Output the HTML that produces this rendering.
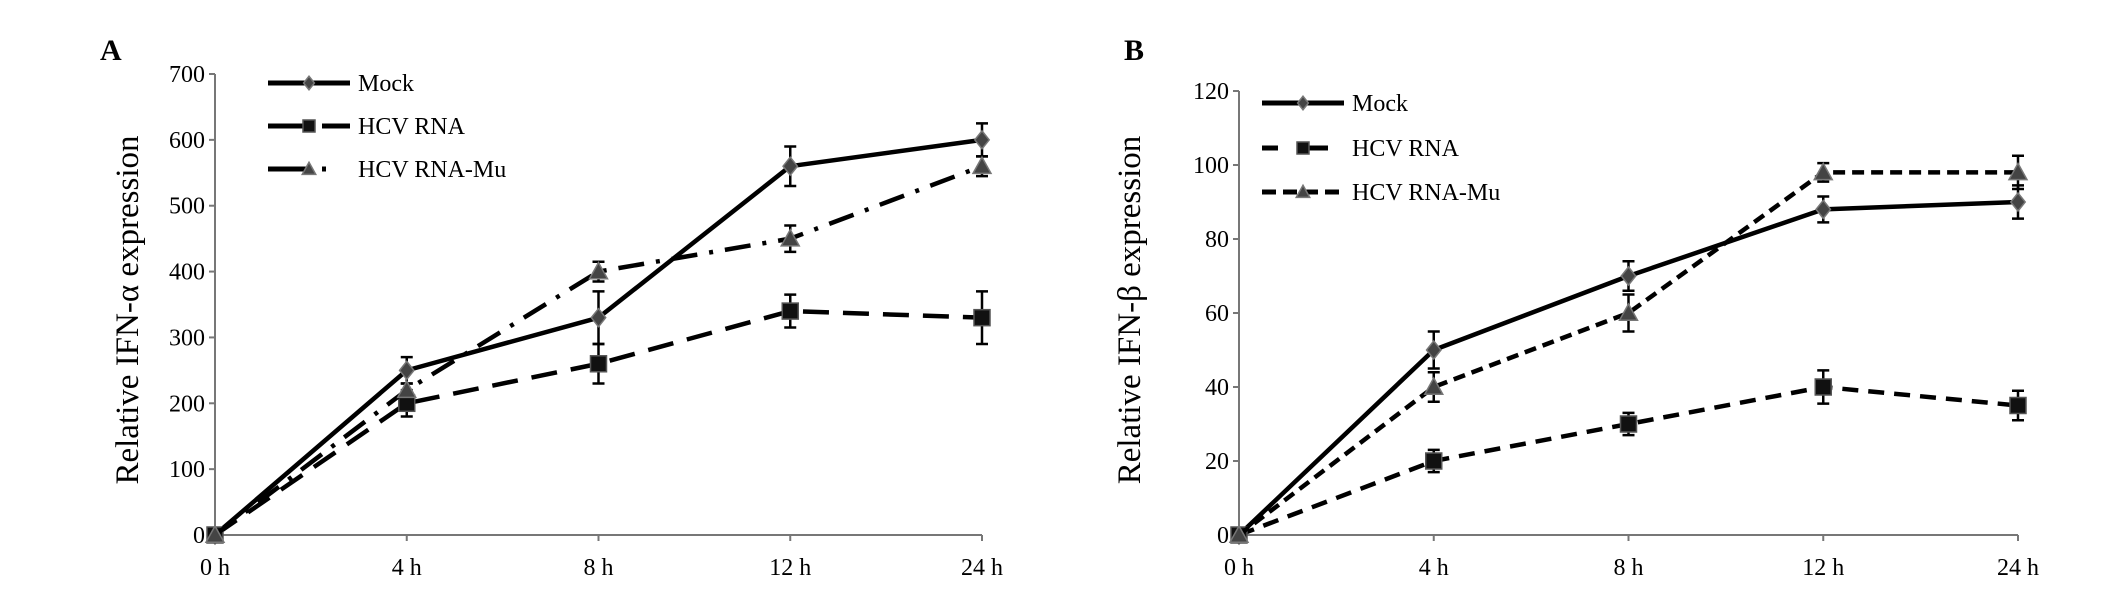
<!DOCTYPE html>
<html><head><meta charset="utf-8"><style>
html,body{margin:0;padding:0;background:#fff;}
svg{display:block;font-family:"Liberation Serif",serif;}
</style></head><body>
<svg id="fig" width="2126" height="614" viewBox="0 0 2126 614"></svg>
<script>
const categories = ["0 h","4 h","8 h","12 h","24 h"];
const aTicks = [0,100,200,300,400,500,600,700];
const aMock = [0,250,330,560,600];
const aMockErr = [0,20,40,30,25];
const aRna = [0,200,260,340,330];
const aRnaErr = [0,20,30,25,40];
const aMu = [0,220,400,450,560];
const aMuErr = [0,10,15,20,15];
const bTicks = [0,20,40,60,80,100,120];
const bMock = [0,50,70,88,90];
const bMockErr = [0,5,4,3.5,4.5];
const bRna = [0,20,30,40,35];
const bRnaErr = [0,3,3,4.5,4];
const bMu = [0,40,60,98,98];
const bMuErr = [0,4,5,2.5,4.5];

const NS = "http://www.w3.org/2000/svg";
const svg = document.getElementById('fig');
function el(tag, attrs, parent){
  const e = document.createElementNS(NS, tag);
  for (const k in attrs) e.setAttribute(k, attrs[k]);
  (parent||svg).appendChild(e);
  return e;
}
function panel(cfg){
  const g = el('g', {});
  
  
  const x = i => cfg.x0 + i*(cfg.x1-cfg.x0)/(categories.length-1);
  const y = v => cfg.y0 - v*(cfg.y0-cfg.yTop)/cfg.max;
  // panel letter
  const L = el('text', {x:cfg.lx, y:60, 'font-size':30, 'font-weight':'bold'}, g);
  L.textContent = cfg.letter;
  
  
  // axes
  const ya = el('line', {x1:cfg.x0, y1:cfg.yTop, x2:cfg.x0, y2:cfg.y0, stroke:'#777', 'stroke-width':2}, g);
  
  
  const xa = el('line', {x1:cfg.x0, y1:cfg.y0, x2:cfg.x1, y2:cfg.y0, stroke:'#777', 'stroke-width':2}, g);
  
  
  cfg.ticks.forEach(t=>{
    el('line', {x1:cfg.x0-6, y1:y(t), x2:cfg.x0, y2:y(t), stroke:'#777', 'stroke-width':2}, g);
    const tx = el('text', {x:cfg.x0-10, y:y(t)+8, 'font-size':24, 'text-anchor':'end'}, g);
    tx.textContent = t;
    
    
  });
  categories.forEach((c,i)=>{
    el('line', {x1:x(i), y1:cfg.y0, x2:x(i), y2:cfg.y0+6, stroke:'#777', 'stroke-width':2}, g);
    const tx = el('text', {x:x(i), y:cfg.y0+40, 'font-size':24, 'text-anchor':'middle'}, g);
    tx.textContent = c;
    
    
  });
  const yt = el('text', {x:cfg.tx, y:310, 'font-size':33, 'text-anchor':'middle', transform:'rotate(-90 '+cfg.tx+' 310)'}, g);
  yt.textContent = cfg.title;
  
  
  cfg.series.forEach((s, si)=>{
    const sg = el('g', {}, g);
    
    
    const pts = s.vals.map((v,i)=>x(i)+','+y(v)).join(' ');
    el('polyline', {points:pts, fill:'none', stroke:'#000', 'stroke-width':4.5, 'stroke-dasharray':s.dash||'none', 'stroke-linejoin':'round'}, sg);
    s.vals.forEach((v,i)=>{
      const e = s.err[i];
      if (e>0){
        const eb = el('path', {d:`M${x(i)} ${y(v+e)}V${y(v-e)}M${x(i)-6} ${y(v+e)}H${x(i)+6}M${x(i)-6} ${y(v-e)}H${x(i)+6}`, stroke:'#000', 'stroke-width':2.5, fill:'none'}, sg);
        
        
      }
      const m = marker(s.marker, x(i), y(v), sg);
      
      
    });
    // legend
    const ly = cfg.legY[si];
    const lg = el('g', {}, g);
    
    
    el('line', {x1:cfg.legX, y1:ly, x2:cfg.legX+82, y2:ly, stroke:'#000', 'stroke-width':5, 'stroke-dasharray':s.ldash||'none'}, lg);
    marker(s.marker, cfg.legX+41, ly, lg, 0.75);
    const lt = el('text', {x:cfg.legX+90, y:ly+8, 'font-size':24}, lg);
    lt.textContent = s.label;
  });
}
function marker(type, cx, cy, parent, sc){
  sc = sc||1;
  if (type==='d'){ const r=9*sc; return el('path',{d:`M${cx} ${cy-r}L${cx+r*0.8} ${cy}L${cx} ${cy+r}L${cx-r*0.8} ${cy}Z`, fill:'#444', stroke:'#777','stroke-width':1.5}, parent); }
  if (type==='s'){ const r=8*sc; return el('rect',{x:cx-r,y:cy-r,width:2*r,height:2*r, fill:'#111', stroke:'#555','stroke-width':1.5}, parent); }
  const r=9*sc; return el('path',{d:`M${cx} ${cy-r}L${cx+r} ${cy+r*0.8}L${cx-r} ${cy+r*0.8}Z`, fill:'#444', stroke:'#777','stroke-width':1.5}, parent);
}
panel({name:'chart-a', letter:'A', lx:100, x0:215, x1:982, y0:535, yTop:74, max:700, ticks:aTicks, tx:138,
  title:'Relative IFN-α expression', legX:268, legY:[83,126,169],
  series:[
    {key:'mock', label:'Mock', vals:aMock, err:aMockErr, marker:'d'},
    {key:'hcv-rna', label:'HCV RNA', vals:aRna, err:aRnaErr, marker:'s', dash:'26 14', ldash:'40 14 28'},
    {key:'hcv-rna-mu', label:'HCV RNA-Mu', vals:aMu, err:aMuErr, marker:'t', dash:'26 12 4 12', ldash:'40 14 4 40'}
  ]});
panel({name:'chart-b', letter:'B', lx:1124, x0:1239, x1:2018, y0:535, yTop:91, max:120, ticks:bTicks, tx:1140,
  title:'Relative IFN-β expression', legX:1262, legY:[103,148,192],
  series:[
    {key:'mock', label:'Mock', vals:bMock, err:bMockErr, marker:'d'},
    {key:'hcv-rna', label:'HCV RNA', vals:bRna, err:bRnaErr, marker:'s', dash:'16 10', ldash:'16 20 30 20 10'},
    {key:'hcv-rna-mu', label:'HCV RNA-Mu', vals:bMu, err:bMuErr, marker:'t', dash:'12 7', ldash:'14 7'}
  ]});
</script>
</body></html>
